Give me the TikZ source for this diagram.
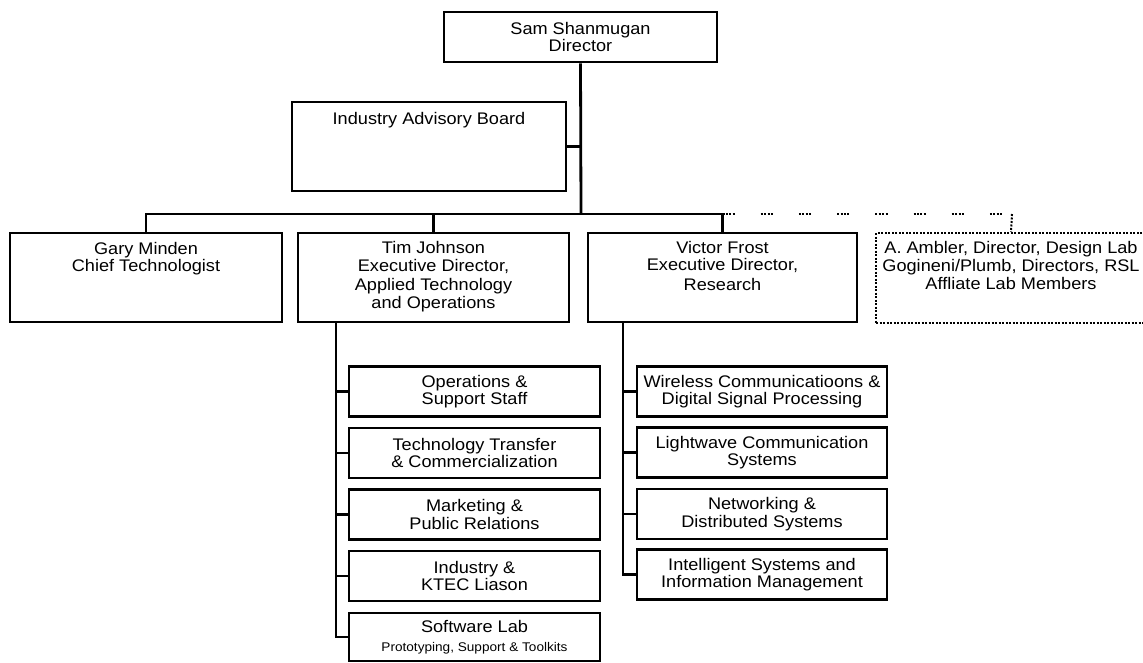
\documentclass[tikz,border=0pt]{standalone}
\usepackage{fontspec}
\setmainfont[FakeStretch=1.08]{Liberation Sans}
\begin{document}
\begin{tikzpicture}[x=1pt,y=-1pt,
  box/.style={draw, line width=2.8pt, inner sep=0pt},
  dotbox/.style={draw, line width=2pt, inner sep=0pt, dash pattern=on 2pt off 1.5pt},
  conn/.style={line width=2.8pt},
  dotline/.style={line width=2pt, dash pattern=on 2pt off 1.5pt},
  dotconn/.style={line width=2pt, dash pattern=on 2pt off 1.4pt on 2pt off 1.4pt on 2pt off 1.4pt on 2pt off 26pt},
  txt/.style={font=\fontsize{16.8}{17.5}\selectfont, align=center, inner sep=0pt},
  small/.style={font=\fontsize{12.6}{14}\selectfont, inner sep=0pt}]
\useasboundingbox (0,0) rectangle (1143,662);

% top level
\node[box, minimum width=273pt, minimum height=50pt] (sam) at (580.5,37) {};
\node[txt] (samT) at (sam.center) {Sam Shanmugan\\Director};
\node[box, minimum width=274pt, minimum height=89pt] (iab) at (429,146.5) {};
\node[txt, anchor=base] (iabT) at (429,124) {Industry Advisory Board};

% second level (anchor=base sits on the last line's baseline)
\node[box, minimum width=272pt, minimum height=89pt] (gary) at (146,277.5) {};
\node[txt, anchor=base] (garyT) at (146,271.5) {Gary Minden\\Chief Technologist};
\node[box, minimum width=271pt, minimum height=89pt] (tim) at (433.5,277.5) {};
\node[txt, anchor=base] (timT) at (433.5,308) {Tim Johnson\\Executive Director,\\[2pt]Applied Technology\\and Operations};
\node[box, minimum width=269pt, minimum height=89pt] (victor) at (722.5,277.5) {};
\node[txt, anchor=base] (victorT) at (722.5,290) {Victor Frost\\Executive Director,\\[2pt]Research};
\node[dotbox, minimum width=270pt, minimum height=90pt] (affil) at (1011,278) {};
\node[txt, anchor=base] (affilT) at (1011,289.5) {A. Ambler, Director, Design Lab\\Gogineni/Plumb, Directors, RSL\\[1pt]Affliate Lab Members};

% Tim's units
\node[box, minimum width=251pt, minimum height=50pt] (ops) at (474.5,391.5) {};
\node[txt] (opsT) at (ops.center) {Operations \&\\Support Staff};
\node[box, minimum width=251pt, minimum height=50pt] (tt) at (474.5,453) {};
\node[txt] (ttT) at (tt.center) {Technology Transfer\\\& Commercialization};
\node[box, minimum width=251pt, minimum height=50pt] (mkt) at (474.5,514.5) {};
\node[txt] (mktT) at (mkt.center) {Marketing \&\\Public Relations};
\node[box, minimum width=251pt, minimum height=50pt] (ind) at (474.5,576) {};
\node[txt] (indT) at (ind.center) {Industry \&\\KTEC Liason};
\node[box, minimum width=251pt, minimum height=48pt] (sw) at (474.5,637) {};
\node[txt, anchor=base] (swT) at (474.5,632) {Software Lab};
\node[small, anchor=base] (swS) at (474.5,651.5) {Prototyping, Support \& Toolkits};

% Victor's units
\node[box, minimum width=250pt, minimum height=50pt] (wir) at (762,391.5) {};
\node[txt] (wirT) at (wir.center) {Wireless Communicatioons \&\\Digital Signal Processing};
\node[box, minimum width=250pt, minimum height=50pt] (lw) at (762,452.5) {};
\node[txt] (lwT) at (lw.center) {Lightwave Communication\\Systems};
\node[box, minimum width=250pt, minimum height=50pt] (net) at (762,514) {};
\node[txt] (netT) at (net.center) {Networking \&\\Distributed Systems};
\node[box, minimum width=250pt, minimum height=50pt] (isys) at (762,574.5) {};
\node[txt] (isysT) at (isys.center) {Intelligent Systems and\\Information Management};

% connectors
\coordinate (bus) at (581,214);
\coordinate (timS) at (336,322);
\coordinate (vicS) at (623,322);
\coordinate (affB) at (1012,214);
\draw[conn] (sam.south) -- (bus);
\draw[conn] (iab.east) -- (iab.east -| sam.south);
\draw[conn] (gary.north) |- (bus);
\draw[conn] (tim.north) -- (tim.north |- bus);
\draw[conn] (bus) -| (victor.north);
\draw[dotconn] (victor.north |- bus) -- (affB);
\draw[dotline] (affB) -- (affil.north);

\draw[conn] (timS) |- (ops.west);
\draw[conn] (timS) |- (tt.west);
\draw[conn] (timS) |- (mkt.west);
\draw[conn] (timS) |- (ind.west);
\draw[conn] (timS) |- (sw.west);

\draw[conn] (vicS) |- (wir.west);
\draw[conn] (vicS) |- (lw.west);
\draw[conn] (vicS) |- (net.west);
\draw[conn] (vicS) |- (isys.west);
\end{tikzpicture}
\end{document}
